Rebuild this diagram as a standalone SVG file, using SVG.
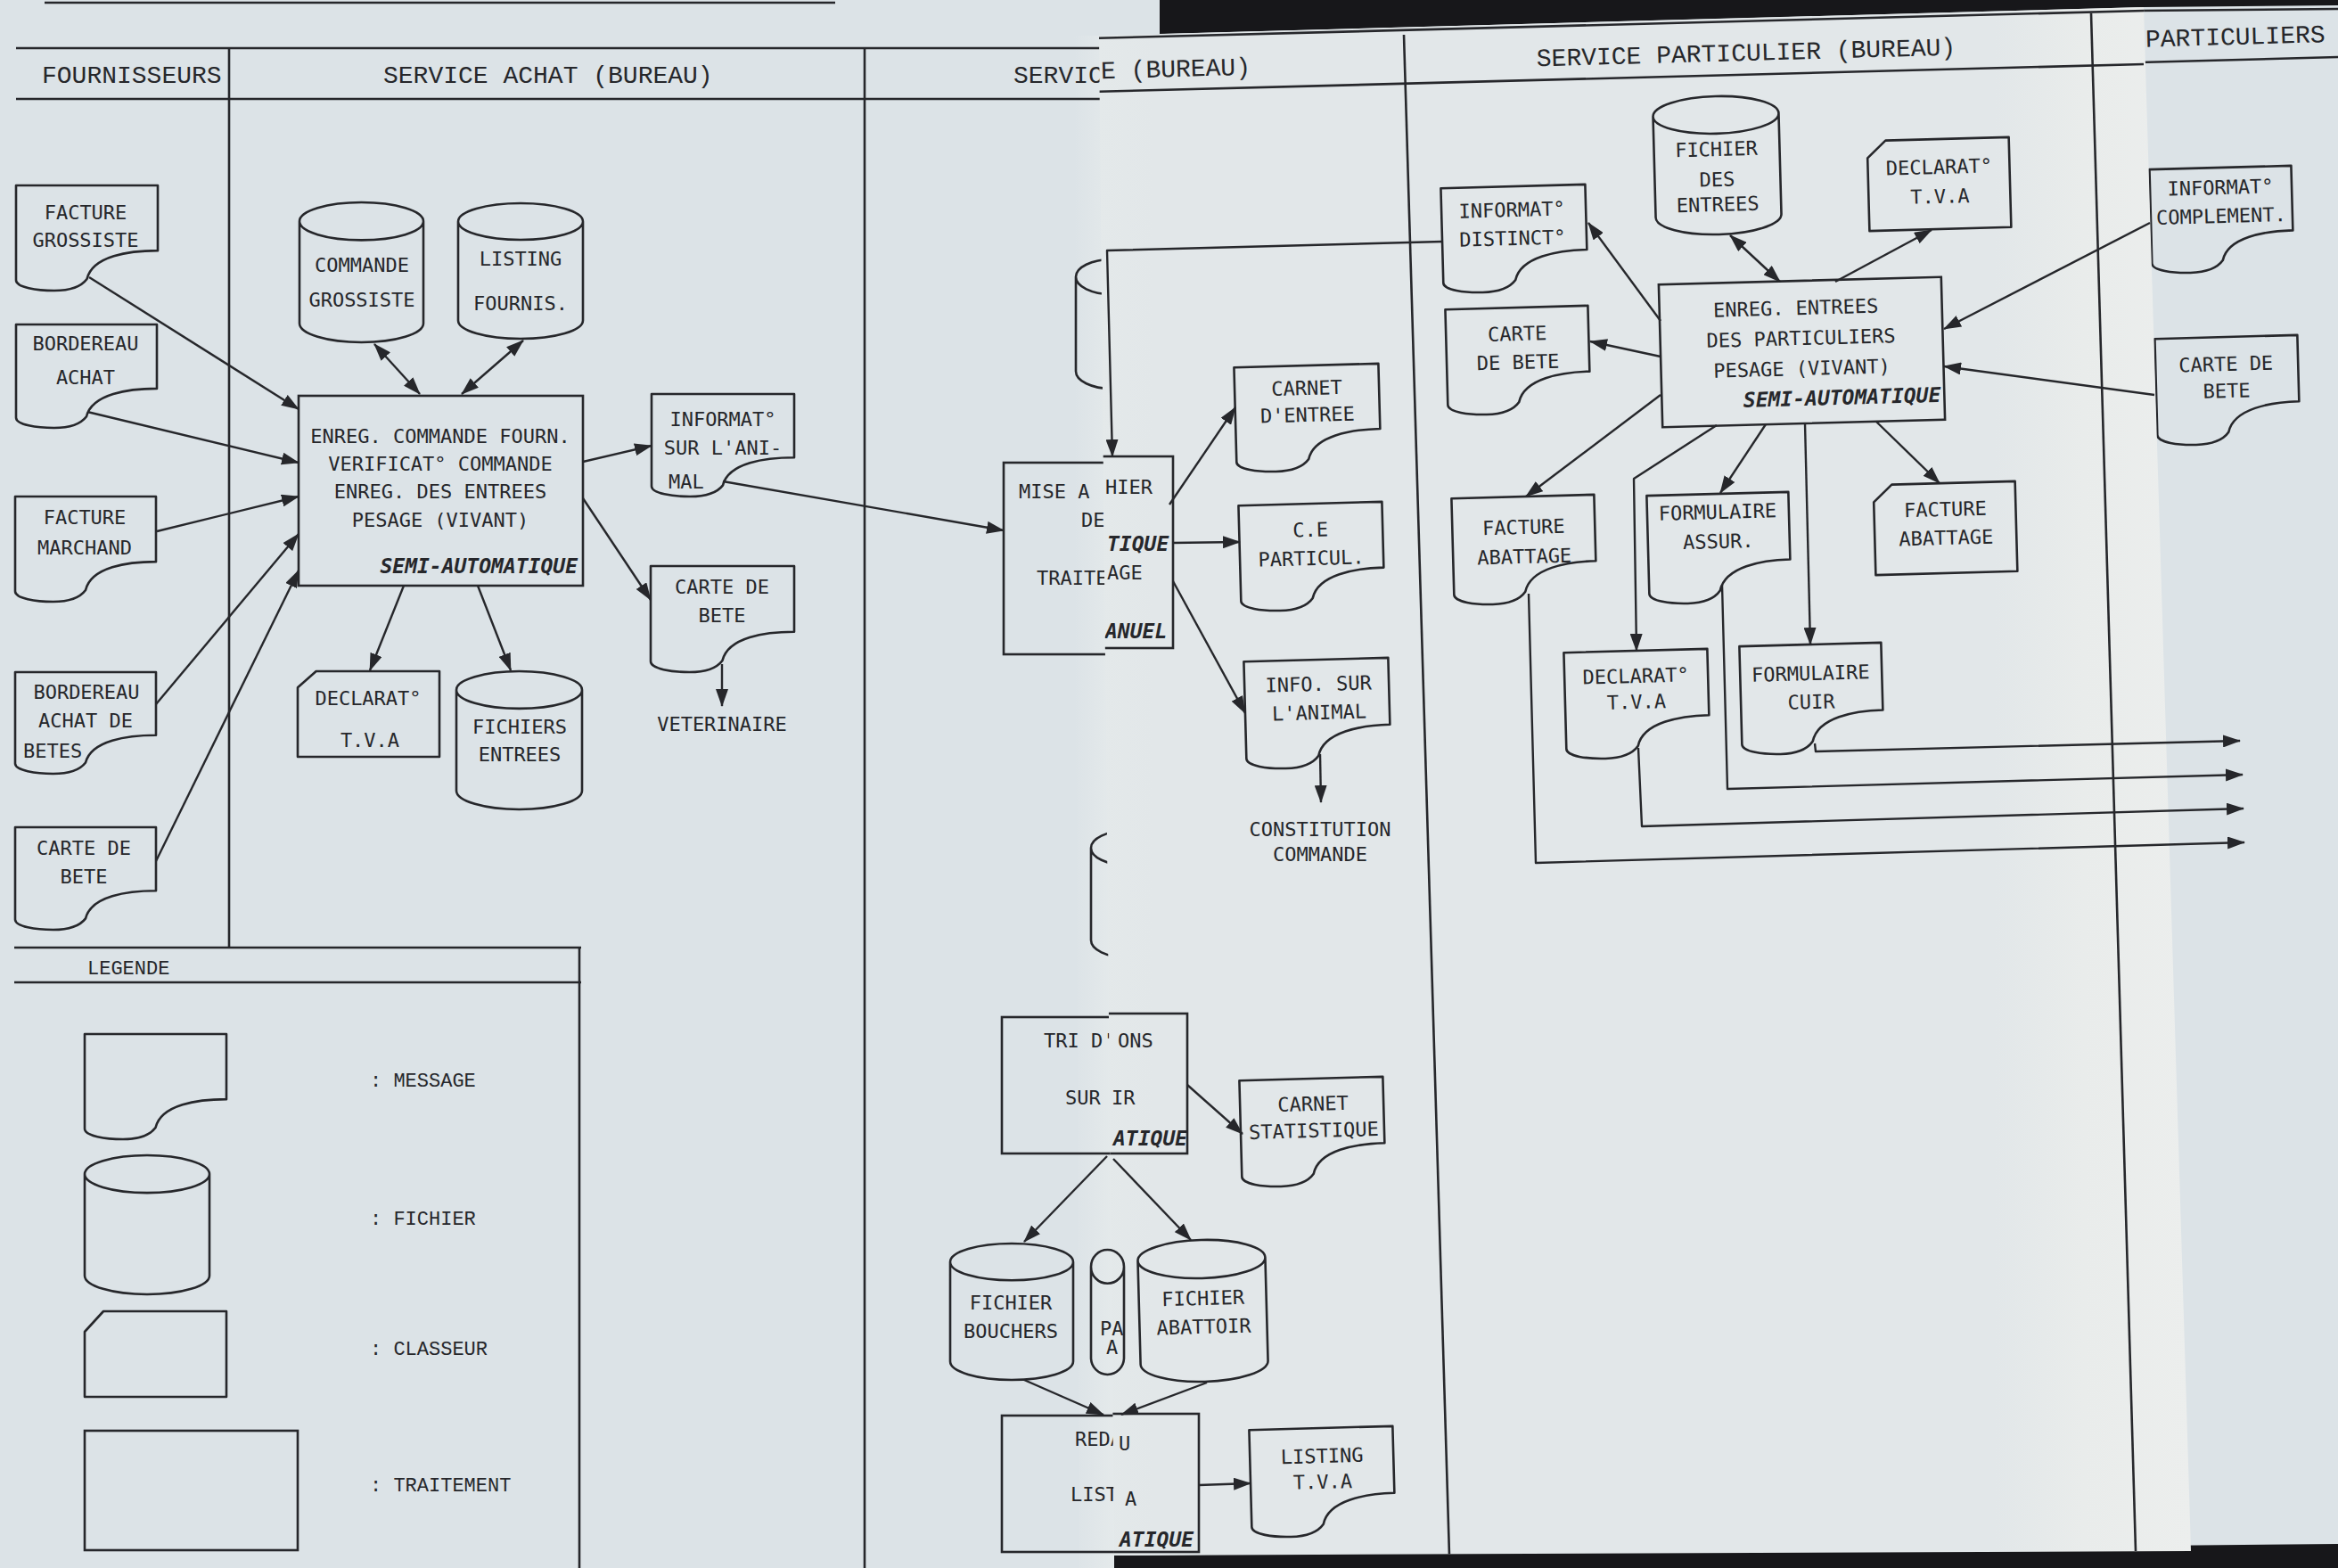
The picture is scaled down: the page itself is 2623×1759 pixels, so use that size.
<svg xmlns="http://www.w3.org/2000/svg" width="2623" height="1759" viewBox="0 0 2623 1759">
<style>
text{fill:#26272b}
.ln{fill:none;stroke:#26272b;stroke-width:2.6}
.bx{fill:none;stroke:#26272b;stroke-width:2.6}
.cn{fill:none;stroke:#26272b;stroke-width:2.4;stroke-linejoin:round}
.ar{marker-end:url(#ah)}
.ar2{marker-start:url(#ah);marker-end:url(#ah)}
.t{font-family:"DejaVu Sans Mono",monospace;font-size:22px;text-anchor:middle}
.ts{font-family:"DejaVu Sans Mono",monospace;font-size:22px}
.sa{font-family:"DejaVu Sans Mono",monospace;font-size:23px;font-weight:bold;font-style:oblique;text-anchor:end}
.sai{font-family:"DejaVu Sans Mono",monospace;font-size:23px;font-weight:bold;font-style:oblique}
.h{font-family:"Liberation Mono",monospace;font-size:28px}
.lg{font-family:"Liberation Mono",monospace;font-size:22px}
</style>
<defs>
  <!-- unit shapes (100x100), stretched per node -->
  <path id="msg" d="M0,0 H100 V62 C80,62 54,67 50,89 C45,98 36,100 27,100 C15,100 0,97 0,90 Z" fill="none" stroke="#26272b" stroke-width="2.6" vector-effect="non-scaling-stroke" stroke-linejoin="round"/>
  <path id="cyl" d="M0,13.5 A50,13.5 0 0 1 100,13.5 A50,13.5 0 0 1 0,13.5 Z M0,13.5 V86.5 A50,13.5 0 0 0 100,86.5 V13.5" fill="none" stroke="#26272b" stroke-width="2.6" vector-effect="non-scaling-stroke"/>
  <path id="cls" d="M0,19 L13,0 H100 V100 H0 Z" fill="none" stroke="#26272b" stroke-width="2.6" vector-effect="non-scaling-stroke" stroke-linejoin="round"/>
  <marker id="ah" viewBox="0 0 20 14" refX="19" refY="7" markerWidth="20" markerHeight="14" markerUnits="userSpaceOnUse" orient="auto-start-reverse">
    <path d="M0,0 L20,7 L0,14 Z" fill="#26272b"/>
  </marker>
  <clipPath id="midclip"><polygon points="1233,40 2405,8 2458,1740 1250,1745"/></clipPath>
  <linearGradient id="midfade" x1="0" y1="0" x2="1" y2="0">
    <stop offset="0" stop-color="#e4e9ea"/>
    <stop offset="0.05" stop-color="#e2e7e9"/>
    <stop offset="0.82" stop-color="#e2e7e9"/>
    <stop offset="0.9" stop-color="#e9eceb"/>
    <stop offset="1" stop-color="#eceeed"/>
  </linearGradient>
  <linearGradient id="foldfade" x1="0" y1="0" x2="1" y2="0">
    <stop offset="0" stop-color="#dce3e7"/>
    <stop offset="1" stop-color="#e5eaeb"/>
  </linearGradient>
</defs>

<!-- paper: left sheet and right sheet -->
<rect x="0" y="0" width="2623" height="1759" fill="#dce3e7"/>
<polygon points="1205,40 1235,40 1252,1759 1210,1759" fill="url(#foldfade)"/>

<!-- ===== left sheet ===== -->
<g id="left-sheet">
  <line class="ln" x1="50" y1="3" x2="937" y2="3" stroke-width="5"/>
  <g id="lanes-left">
    <line class="ln" x1="18" y1="54" x2="1245" y2="54"/>
    <line class="ln" x1="18" y1="111" x2="1245" y2="111"/>
    <line class="ln" x1="257" y1="54" x2="257" y2="1063"/>
    <line class="ln" x1="970" y1="54" x2="970" y2="1759"/>
    <text class="h" x="47" y="93">FOURNISSEURS</text>
    <text class="h" x="430" y="93">SERVICE ACHAT (BUREAU)</text>
    <text class="h" x="1137" y="93">SERVIC</text>
  </g>

  <g id="n-facture-grossiste">
    <use href="#msg" transform="translate(18 208) scale(1.59 1.18)"/>
    <text class="t" x="96" y="246">FACTURE</text>
    <text class="t" x="96" y="277">GROSSISTE</text>
  </g>
  <g id="n-bordereau-achat">
    <use href="#msg" transform="translate(18 364) scale(1.58 1.16)"/>
    <text class="t" x="96" y="393">BORDEREAU</text>
    <text class="t" x="96" y="431">ACHAT</text>
  </g>
  <g id="n-facture-marchand">
    <use href="#msg" transform="translate(17 557) scale(1.58 1.18)"/>
    <text class="t" x="95" y="588">FACTURE</text>
    <text class="t" x="95" y="622">MARCHAND</text>
  </g>
  <g id="n-bordereau-betes">
    <use href="#msg" transform="translate(17 754) scale(1.58 1.14)"/>
    <text class="t" x="97" y="784">BORDEREAU</text>
    <text class="t" x="96" y="816">ACHAT DE</text>
    <text class="ts" x="26" y="850">BETES</text>
  </g>
  <g id="n-carte-bete-fourn">
    <use href="#msg" transform="translate(17 928) scale(1.58 1.15)"/>
    <text class="t" x="94" y="959">CARTE DE</text>
    <text class="t" x="94" y="991">BETE</text>
  </g>

  <g id="n-enreg-commande">
    <rect class="bx" x="335" y="444" width="319" height="213"/>
    <text class="t" x="494" y="497">ENREG. COMMANDE FOURN.</text>
    <text class="t" x="494" y="528">VERIFICAT° COMMANDE</text>
    <text class="t" x="494" y="559">ENREG. DES ENTREES</text>
    <text class="t" x="494" y="591">PESAGE (VIVANT)</text>
    <text class="sa" x="648" y="643">SEMI-AUTOMATIQUE</text>
  </g>
  <g id="n-commande-grossiste">
    <use href="#cyl" transform="translate(336 227) scale(1.39 1.57)"/>
    <text class="t" x="406" y="305">COMMANDE</text>
    <text class="t" x="406" y="344">GROSSISTE</text>
  </g>
  <g id="n-listing-fournis">
    <use href="#cyl" transform="translate(514 228) scale(1.40 1.52)"/>
    <text class="t" x="584" y="298">LISTING</text>
    <text class="t" x="584" y="348">FOURNIS.</text>
  </g>
  <g id="n-declarat-tva-achat">
    <use href="#cls" transform="translate(334 753) scale(1.59 0.96)"/>
    <text class="t" x="413" y="791">DECLARAT°</text>
    <text class="t" x="415" y="838">T.V.A</text>
  </g>
  <g id="n-fichiers-entrees">
    <use href="#cyl" transform="translate(512 753) scale(1.41 1.55)"/>
    <text class="t" x="583" y="823">FICHIERS</text>
    <text class="t" x="583" y="854">ENTREES</text>
  </g>
  <g id="n-informat-animal">
    <use href="#msg" transform="translate(731 442) scale(1.60 1.15)"/>
    <text class="t" x="811" y="478">INFORMAT°</text>
    <text class="t" x="811" y="510">SUR L'ANI-</text>
    <text class="ts" x="750" y="548">MAL</text>
  </g>
  <g id="n-carte-bete-achat">
    <use href="#msg" transform="translate(730 635) scale(1.61 1.19)"/>
    <text class="t" x="810" y="666">CARTE DE</text>
    <text class="t" x="810" y="698">BETE</text>
  </g>
  <g id="n-veterinaire">
    <text class="t" x="810" y="820">VETERINAIRE</text>
  </g>

  <g id="n-mise-a-jour">
    <rect class="bx" x="1126" y="519" width="190" height="215"/>
    <text class="ts" x="1143" y="559">MISE A</text>
    <text class="ts" x="1213" y="591">DE</text>
    <text class="ts" x="1163" y="656">TRAITE</text>
  </g>
  <g id="n-fichier-frag-1">
    <use href="#cyl" transform="translate(1207 291) scale(0.8 1.45)"/>
  </g>
  <g id="n-fichier-frag-2">
    <use href="#cyl" transform="translate(1224 932) scale(0.8 1.42)"/>
  </g>
  <g id="n-tri">
    <rect class="bx" x="1124" y="1141" width="208" height="153"/>
    <text class="ts" x="1171" y="1175">TRI D'</text>
    <text class="ts" x="1195" y="1239">SUR</text>
  </g>
  <g id="n-fichier-bouchers">
    <use href="#cyl" transform="translate(1066 1395) scale(1.38 1.53)"/>
    <text class="t" x="1134" y="1469">FICHIER</text>
    <text class="t" x="1134" y="1501">BOUCHERS</text>
  </g>
  <g id="n-redaction">
    <rect class="bx" x="1124" y="1588" width="221" height="153"/>
    <text class="ts" x="1206" y="1622">REDA</text>
    <text class="ts" x="1201" y="1684">LIST</text>
  </g>

  <g id="legend">
    <line class="ln" x1="16" y1="1063" x2="652" y2="1063"/>
    <line class="ln" x1="16" y1="1102" x2="652" y2="1102"/>
    <line class="ln" x1="650" y1="1063" x2="650" y2="1759"/>
    <text class="lg" x="98" y="1093">LEGENDE</text>
    <use href="#msg" transform="translate(95 1160) scale(1.59 1.18)"/>
    <text class="lg" x="415" y="1219">: MESSAGE</text>
    <use href="#cyl" transform="translate(95 1296) scale(1.40 1.56)"/>
    <text class="lg" x="415" y="1374">: FICHIER</text>
    <path d="M95,1494 L116,1471 H254 V1567 H95 Z" fill="none" stroke="#26272b" stroke-width="2.6" stroke-linejoin="round"/>
    <text class="lg" x="415" y="1520">: CLASSEUR</text>
    <rect class="bx" x="95" y="1605" width="239" height="134"/>
    <text class="lg" x="415" y="1673">: TRAITEMENT</text>
  </g>
</g>

<!-- ===== right sheet (PARTICULIERS) ===== -->
<g id="right-sheet">
  <line class="ln" x1="2400" y1="12" x2="2623" y2="10"/>
  <line class="ln" x1="2400" y1="70" x2="2623" y2="64"/>
  <text class="h" x="2407" y="50" transform="rotate(-1.55 2505 42)">PARTICULIERS</text>
  <g id="n-informat-complement" transform="rotate(-1.55 2492 246)">
    <use href="#msg" transform="translate(2413 188) scale(1.59 1.17)"/>
    <text class="t" x="2492" y="218">INFORMAT°</text>
    <text class="t" x="2492" y="250">COMPLEMENT.</text>
  </g>
  <g id="n-carte-bete-part-ext" transform="rotate(-1.55 2499 438)">
    <use href="#msg" transform="translate(2419 378) scale(1.60 1.20)"/>
    <text class="t" x="2498" y="416">CARTE DE</text>
    <text class="t" x="2498" y="446">BETE</text>
  </g>
</g>

<!-- dark background showing around the sheets -->
<polygon points="1301,0 2623,0 2623,6 2405,8 1301,38" fill="#17171a"/>
<polygon points="1250,1745 2623,1732 2623,1759 1250,1759" fill="#17171a"/>

<!-- ===== middle sheet ===== -->
<polygon points="1233,40 2405,8 2458,1740 1250,1745" fill="url(#midfade)"/>
<g id="middle-sheet" clip-path="url(#midclip)">
  <g id="lanes-middle">
    <line class="ln" x1="1225" y1="43" x2="2405" y2="12"/>
    <line class="ln" x1="1225" y1="103" x2="2405" y2="72"/>
    <line class="ln" x1="1575" y1="39" x2="1626" y2="1745"/>
    <line class="ln" x1="2346" y1="15" x2="2396" y2="1740"/>
    <text class="h" x="1235" y="86" transform="rotate(-1.55 1319 78)">E (BUREAU)</text>
    <text class="h" x="1959" y="68" text-anchor="middle" transform="rotate(-1.55 1959 60)">SERVICE PARTICULIER (BUREAU)</text>
  </g>

  <g id="n-mise-a-jour-b">
    <rect class="bx" x="1130" y="512" width="186" height="215"/>
    <text class="ts" x="1240" y="554">HIER</text>
    <text class="sai" x="1242" y="618">TIQUE</text>
    <text class="ts" x="1242" y="650">AGE</text>
    <text class="sai" x="1240" y="716">ANUEL</text>
  </g>
  <g id="n-tri-b">
    <rect class="bx" x="1124" y="1137" width="208" height="157"/>
    <text class="ts" x="1254" y="1175">ONS</text>
    <text class="ts" x="1247" y="1239">IR</text>
    <text class="sai" x="1249" y="1285">ATIQUE</text>
  </g>
  <g id="n-redaction-b">
    <rect class="bx" x="1124" y="1586" width="221" height="155"/>
    <text class="ts" x="1255" y="1627">U</text>
    <text class="ts" x="1262" y="1689">A</text>
    <text class="sai" x="1256" y="1735">ATIQUE</text>
  </g>

  <g id="n-carnet-entree" transform="rotate(-1.55 1467 469)">
    <use href="#msg" transform="translate(1386 410) scale(1.62 1.18)"/>
    <text class="t" x="1467" y="443">CARNET</text>
    <text class="t" x="1467" y="473">D'ENTREE</text>
  </g>
  <g id="n-ce-particul" transform="rotate(-1.55 1471 624)">
    <use href="#msg" transform="translate(1391 565) scale(1.61 1.19)"/>
    <text class="t" x="1471" y="602">C.E</text>
    <text class="t" x="1471" y="634">PARTICUL.</text>
  </g>
  <g id="n-info-animal" transform="rotate(-1.55 1478 800)">
    <use href="#msg" transform="translate(1397 740) scale(1.62 1.21)"/>
    <text class="t" x="1480" y="775">INFO. SUR</text>
    <text class="t" x="1480" y="807">L'ANIMAL</text>
  </g>
  <g id="n-constitution">
    <text class="t" x="1481" y="938">CONSTITUTION</text>
    <text class="t" x="1481" y="966">COMMANDE</text>
  </g>
  <g id="n-carnet-statistique" transform="rotate(-1.55 1472 1270)">
    <use href="#msg" transform="translate(1392 1210) scale(1.61 1.20)"/>
    <text class="t" x="1474" y="1246">CARNET</text>
    <text class="t" x="1474" y="1276">STATISTIQUE</text>
  </g>
  <g id="n-fichier-abattoir" transform="rotate(-1.55 1349 1470)">
    <use href="#cyl" transform="translate(1278 1391) scale(1.43 1.59)"/>
    <text class="t" x="1350" y="1464">FICHIER</text>
    <text class="t" x="1350" y="1496">ABATTOIR</text>
  </g>
  <g id="n-listing-tva" transform="rotate(-1.55 1483 1662)">
    <use href="#msg" transform="translate(1403 1602) scale(1.61 1.21)"/>
    <text class="t" x="1484" y="1641">LISTING</text>
    <text class="t" x="1484" y="1670">T.V.A</text>
  </g>

  <g id="n-informat-distinct" transform="rotate(-1.55 1699 268)">
    <use href="#msg" transform="translate(1618 209) scale(1.62 1.18)"/>
    <text class="t" x="1697" y="243">INFORMAT°</text>
    <text class="t" x="1697" y="275">DISTINCT°</text>
  </g>
  <g id="n-carte-bete-part" transform="rotate(-1.55 1703 404)">
    <use href="#msg" transform="translate(1623 345) scale(1.60 1.19)"/>
    <text class="t" x="1703" y="382">CARTE</text>
    <text class="t" x="1703" y="414">DE BETE</text>
  </g>
  <g id="n-fichier-des-entrees" transform="rotate(-1.55 1926 185)">
    <use href="#cyl" transform="translate(1856 108) scale(1.41 1.55)"/>
    <text class="t" x="1926" y="175">FICHIER</text>
    <text class="t" x="1926" y="209">DES</text>
    <text class="t" x="1926" y="237">ENTREES</text>
  </g>
  <g id="n-declarat-tva-part" transform="rotate(-1.55 2175 206)">
    <use href="#cls" transform="translate(2096 156) scale(1.59 1.01)"/>
    <text class="t" x="2176" y="195">DECLARAT°</text>
    <text class="t" x="2176" y="228">T.V.A</text>
  </g>
  <g id="n-enreg-entrees" transform="rotate(-1.55 2021 395)">
    <rect class="bx" x="1863" y="315" width="317" height="160"/>
    <text class="t" x="2016" y="353">ENREG. ENTREES</text>
    <text class="t" x="2021" y="387">DES PARTICULIERS</text>
    <text class="t" x="2021" y="421">PESAGE (VIVANT)</text>
    <text class="sa" x="2176" y="455">SEMI-AUTOMATIQUE</text>
  </g>
  <g id="n-facture-abattage-msg" transform="rotate(-1.55 1710 617)">
    <use href="#msg" transform="translate(1630 557) scale(1.60 1.20)"/>
    <text class="t" x="1710" y="599">FACTURE</text>
    <text class="t" x="1710" y="632">ABATTAGE</text>
  </g>
  <g id="n-formulaire-assur" transform="rotate(-1.55 1928 615)">
    <use href="#msg" transform="translate(1849 554) scale(1.59 1.22)"/>
    <text class="t" x="1928" y="582">FORMULAIRE</text>
    <text class="t" x="1928" y="615">ASSUR.</text>
  </g>
  <g id="n-declarat-tva-msg" transform="rotate(-1.55 1836 790)">
    <use href="#msg" transform="translate(1756 730) scale(1.61 1.20)"/>
    <text class="t" x="1836" y="766">DECLARAT°</text>
    <text class="t" x="1836" y="795">T.V.A</text>
  </g>
  <g id="n-formulaire-cuir" transform="rotate(-1.55 2032 784)">
    <use href="#msg" transform="translate(1953 723) scale(1.59 1.22)"/>
    <text class="t" x="2032" y="763">FORMULAIRE</text>
    <text class="t" x="2032" y="795">CUIR</text>
  </g>
  <g id="n-facture-abattage-cls" transform="rotate(-1.55 2182 592)">
    <use href="#cls" transform="translate(2103 542) scale(1.59 1.01)"/>
    <text class="t" x="2183" y="579">FACTURE</text>
    <text class="t" x="2183" y="611">ABATTAGE</text>
  </g>
</g>

<!-- narrow file drum caught in the fold -->
<g id="n-fichier-fold">
  <use href="#cyl" transform="translate(1224 1402) scale(0.37 1.40)"/>
  <text class="ts" x="1234" y="1498">PA</text>
  <text class="ts" x="1241" y="1519">A</text>
</g>

<!-- ===== connectors ===== -->
<g id="connectors">
  <line class="cn ar2" x1="420" y1="386" x2="471" y2="442"/>
  <line class="cn ar2" x1="587" y1="382" x2="518" y2="442"/>
  <line class="cn ar" x1="100" y1="311" x2="335" y2="459"/>
  <line class="cn ar" x1="98" y1="462" x2="335" y2="519"/>
  <line class="cn ar" x1="176" y1="596" x2="335" y2="557"/>
  <line class="cn ar" x1="175" y1="790" x2="335" y2="599"/>
  <line class="cn ar" x1="175" y1="966" x2="335" y2="640"/>
  <line class="cn ar" x1="453" y1="657" x2="415" y2="752"/>
  <line class="cn ar" x1="536" y1="657" x2="573" y2="752"/>
  <line class="cn ar" x1="654" y1="518" x2="731" y2="500"/>
  <line class="cn ar" x1="654" y1="559" x2="730" y2="673"/>
  <line class="cn ar" x1="810" y1="745" x2="810" y2="792"/>
  <line class="cn ar" x1="811" y1="540" x2="1126" y2="595"/>

  <polyline class="cn ar" points="1618,271 1242,281 1248,512"/>
  <line class="cn ar" x1="1312" y1="566" x2="1386" y2="457"/>
  <line class="cn ar" x1="1315" y1="609" x2="1391" y2="608"/>
  <line class="cn ar" x1="1316" y1="652" x2="1397" y2="800"/>
  <line class="cn ar" x1="1481" y1="846" x2="1482" y2="900"/>
  <line class="cn ar" x1="1332" y1="1217" x2="1394" y2="1272"/>
  <line class="cn ar" x1="1242" y1="1297" x2="1149" y2="1393"/>
  <line class="cn ar" x1="1249" y1="1300" x2="1336" y2="1391"/>
  <line class="cn ar" x1="1149" y1="1548" x2="1238" y2="1587"/>
  <line class="cn ar" x1="1354" y1="1551" x2="1258" y2="1587"/>
  <line class="cn ar" x1="1345" y1="1666" x2="1403" y2="1664"/>

  <line class="cn ar2" x1="1941" y1="264" x2="1997" y2="316"/>
  <line class="cn ar" x1="2059" y1="316" x2="2167" y2="258"/>
  <line class="cn ar" x1="2412" y1="250" x2="2181" y2="369"/>
  <line class="cn ar" x1="2417" y1="443" x2="2181" y2="411"/>
  <line class="cn ar" x1="1863" y1="360" x2="1782" y2="250"/>
  <line class="cn ar" x1="1863" y1="400" x2="1784" y2="383"/>
  <line class="cn ar" x1="1863" y1="443" x2="1712" y2="557"/>
  <line class="cn ar" x1="1981" y1="476" x2="1930" y2="553"/>
  <polyline class="cn ar" points="1926,477 1833,537 1836,730"/>
  <line class="cn ar" x1="2025" y1="475" x2="2031" y2="723"/>
  <line class="cn ar" x1="2105" y1="473" x2="2176" y2="542"/>

  <polyline class="cn ar" points="2036,834 2037,843 2513,831"/>
  <polyline class="cn ar" points="1932,656 1938,885 2516,869"/>
  <polyline class="cn ar" points="1838,839 1842,927 2517,907"/>
  <polyline class="cn ar" points="1715,666 1723,968 2518,945"/>
</g>
</svg>
